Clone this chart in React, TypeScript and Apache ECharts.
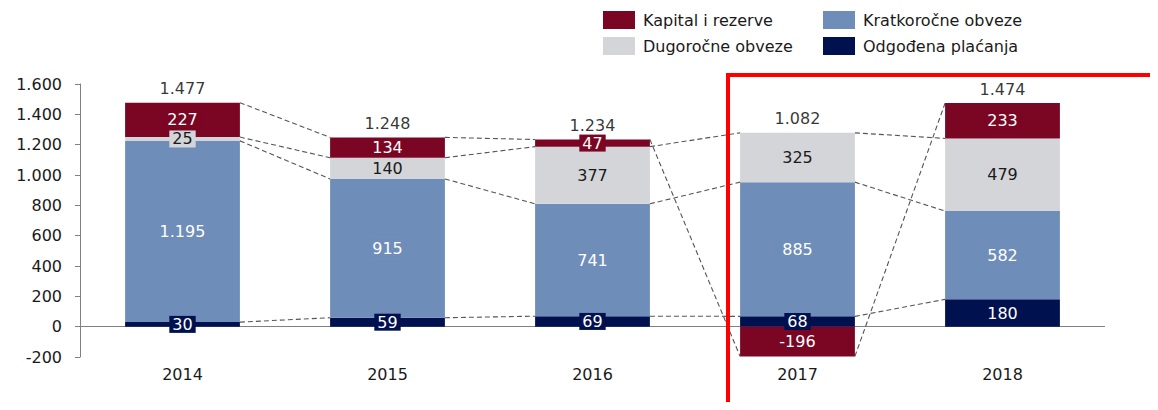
import React, { useEffect, useRef } from "react";
import * as echarts from "echarts";

const categories = ["2014", "2015", "2016", "2017", "2018"];
const odgodena = [30, 59, 69, 68, 180];
const kratkorocne = [1195, 915, 741, 885, 582];
const dugorocne = [25, 140, 377, 325, 479];
const kapital = [227, 134, 47, -196, 233];
const totals = [1477, 1248, 1234, 1082, 1474];

const seriesNames = ["Odgođena plaćanja", "Kratkoročne obveze", "Dugoročne obveze", "Kapital i rezerve"];
const seriesColors = ["#00114F", "#6E8DB9", "#D4D5D8", "#7A0624"];
const labelColors = ["#ffffff", "#ffffff", "#1a1a1a", "#ffffff"];
const stackData = [odgodena, kratkorocne, dugorocne, kapital];

const yMin = -200;
const yMax = 1600;
const yStep = 200;

const FONT = "DejaVu Sans";
const FS = 16;
const BAR_FRAC = 0.56;

function fmt(n: number): string {
  const s = Math.abs(Math.round(n)).toString();
  const parts: string[] = [];
  for (let i = s.length; i > 0; i -= 3) parts.unshift(s.slice(Math.max(0, i - 3), i));
  return (n < 0 ? "-" : "") + parts.join(".");
}

export default function App() {
  const ref = useRef<HTMLDivElement>(null);
  useEffect(() => {
    if (!ref.current) return;
    const chart = echarts.init(ref.current, undefined, { renderer: "svg" });

    // stack edges (top of positive segment, bottom of negative segment)
    const edges: number[][] = stackData.map(() => []);
    const posTop: number[] = [];
    for (let i = 0; i < categories.length; i++) {
      let pos = 0;
      let neg = 0;
      stackData.forEach((arr, k) => {
        const v = arr[i];
        if (v >= 0) {
          pos += v;
          edges[k][i] = pos;
        } else {
          neg += v;
          edges[k][i] = neg;
        }
      });
      posTop[i] = pos;
    }
    const lineData: number[][] = [];
    edges.forEach((e) => {
      for (let i = 0; i < categories.length - 1; i++) lineData.push([i, e[i], e[i + 1]]);
    });

    const barSeries = stackData.map((arr, k) => ({
      name: seriesNames[k],
      type: "bar",
      stack: "total",
      barWidth: BAR_FRAC * 100 + "%",
      data: arr,
      itemStyle: { color: seriesColors[k] },
      z: 3,
      label: {
        show: true,
        position: "inside",
        formatter: (p: any) => fmt(p.value),
        color: labelColors[k],
        fontFamily: FONT,
        fontSize: FS,
        backgroundColor: seriesColors[k],
        padding: [1, 3, 0, 3],
      },
      ...(k === 0
        ? {
            markLine: {
              silent: true,
              symbol: "none",
              label: { show: false },
              lineStyle: { color: "#808080", width: 1, type: "solid" },
              data: [{ yAxis: 0 }],
              z: 1,
            },
          }
        : {}),
    }));

    const legendCommon = {
      top: 11,
      padding: 0,
      orient: "vertical",
      itemWidth: 32,
      itemHeight: 18,
      itemGap: 8,
      icon: "rect",
      textStyle: { fontFamily: FONT, fontSize: FS, color: "#1a1a1a", padding: [0, 0, 0, 3] },
    };

    chart.setOption({
      animation: false,
      textStyle: { fontFamily: FONT },
      grid: { left: 80, right: 53, top: 84, bottom: 53 },
      legend: [
        { ...legendCommon, left: 603, data: ["Kapital i rezerve", "Dugoročne obveze"] },
        { ...legendCommon, left: 823, data: ["Kratkoročne obveze", "Odgođena plaćanja"] },
      ],
      xAxis: {
        type: "category",
        data: categories,
        axisLine: { show: false, onZero: false },
        axisTick: { show: false },
        axisLabel: { fontFamily: FONT, fontSize: FS, color: "#1a1a1a", margin: 9 },
      },
      yAxis: {
        type: "value",
        min: yMin,
        max: yMax,
        interval: yStep,
        splitLine: { show: false },
        axisLine: { show: true, lineStyle: { color: "#808080" } },
        axisTick: { show: true, length: 5, lineStyle: { color: "#808080" } },
        axisLabel: {
          fontFamily: FONT,
          fontSize: FS,
          color: "#1a1a1a",
          margin: 18,
          formatter: (v: number) => fmt(v),
        },
      },
      graphic: [
        {
          type: "text",
          left: 0,
          top: -13,
          style: { text: "(u milijunima kuna)", font: "18px serif", fill: "#000" },
        },
        {
          type: "rect",
          shape: { x: 728, y: 75, width: 500, height: 400 },
          style: { fill: "none", stroke: "#FF0000", lineWidth: 4 },
          z: 100,
        },
      ],
      series: [
        {
          type: "custom",
          name: "lines",
          silent: true,
          z: 1,
          encode: { x: 0, y: [1, 2] },
          data: lineData,
          renderItem: (params: any, api: any) => {
            const i = api.value(0);
            const a = api.coord([i, api.value(1)]);
            const b = api.coord([i + 1, api.value(2)]);
            const hw = (api.size([1, 0])[0] * BAR_FRAC) / 2;
            return {
              type: "line",
              shape: { x1: a[0] + hw, y1: a[1], x2: b[0] - hw, y2: b[1] },
              style: { stroke: "#555555", lineWidth: 1.1, lineDash: [5, 3] },
            };
          },
        },
        ...barSeries,
        {
          type: "scatter",
          name: "totals",
          symbolSize: 0,
          silent: true,
          z: 5,
          data: posTop,
          label: {
            show: true,
            position: "top",
            distance: 6,
            fontFamily: FONT,
            fontSize: FS,
            color: "#000000",
            formatter: (p: any) => fmt(totals[p.dataIndex]),
          },
        },
      ],
    });
    return () => chart.dispose();
  }, []);
  return <div ref={ref} style={{ width: 1158, height: 410, margin: -8 }} />;
}
